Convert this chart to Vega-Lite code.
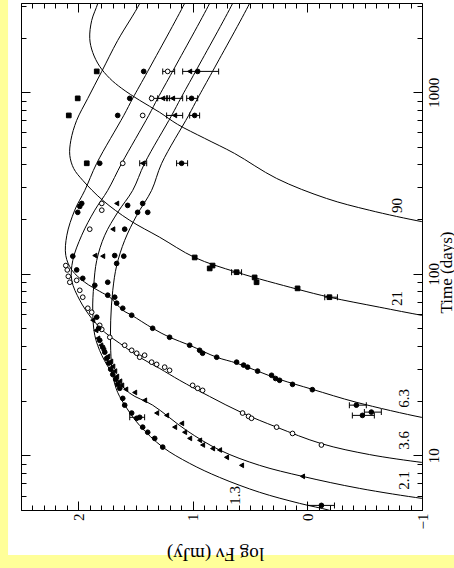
{
"$schema": "https://vega.github.io/schema/vega-lite/v6.json",
"width": 401, "height": 507,
"autosize": {"type": "none"},
"padding": {"left": 21, "top": 3, "right": 32, "bottom": 58},
"background": "#FFFF99",
"config": {"view": {"stroke": null}, "axis": {"zindex": 2, "grid": false, "domainColor": "black", "tickColor": "black", "labelColor": "black", "titleColor": "black", "labelFont": "Liberation Serif", "titleFont": "Liberation Serif", "titleFontWeight": "normal", "domainWidth": 1, "tickWidth": 1, "labelFlush": false, "labelOverlap": false}},
"datasets": {
"curves": [
{"c":"90","F":1.804,"t":3640},{"c":"90","F":1.830,"t":3083},{"c":"90","F":1.883,"t":2485},{"c":"90","F":1.900,"t":1978},{"c":"90","F":1.874,"t":1656},{"c":"90","F":1.813,"t":1387},{"c":"90","F":1.725,"t":1191},{"c":"90","F":1.621,"t":1050},{"c":"90","F":1.464,"t":902},{"c":"90","F":1.290,"t":775},{"c":"90","F":1.133,"t":665},{"c":"90","F":0.897,"t":557},{"c":"90","F":0.636,"t":460},{"c":"90","F":0.269,"t":335},{"c":"90","F":-0.166,"t":260},{"c":"90","F":-0.540,"t":224},{"c":"90","F":-0.994,"t":194},{"c":"90","F":-1.151,"t":187},
{"c":"21","F":1.420,"t":3640},{"c":"21","F":1.464,"t":3083},{"c":"21","F":1.656,"t":1928},{"c":"21","F":1.795,"t":1302},{"c":"21","F":1.917,"t":925},{"c":"21","F":2.014,"t":700},{"c":"21","F":2.065,"t":543},{"c":"21","F":2.074,"t":449},{"c":"21","F":2.040,"t":380},{"c":"21","F":1.961,"t":327},{"c":"21","F":1.787,"t":254},{"c":"21","F":1.551,"t":197},{"c":"21","F":1.290,"t":159},{"c":"21","F":0.984,"t":123},{"c":"21","F":0.618,"t":102},{"c":"21","F":0.086,"t":82.2},{"c":"21","F":-0.192,"t":74.3},{"c":"21","F":-0.627,"t":65.5},{"c":"21","F":-0.994,"t":59.1},{"c":"21","F":-1.151,"t":56.8},
{"c":"6.3","F":1.018,"t":3640},{"c":"6.3","F":1.072,"t":3083},{"c":"6.3","F":1.394,"t":1302},{"c":"6.3","F":1.525,"t":925},{"c":"6.3","F":1.603,"t":745},{"c":"6.3","F":1.839,"t":406},{"c":"6.3","F":1.943,"t":288},{"c":"6.3","F":2.031,"t":224},{"c":"6.3","F":2.100,"t":163},{"c":"6.3","F":2.109,"t":126},{"c":"6.3","F":2.057,"t":105},{"c":"6.3","F":1.943,"t":89.8},{"c":"6.3","F":1.813,"t":80.0},{"c":"6.3","F":1.725,"t":74.3},{"c":"6.3","F":1.612,"t":63.0},{"c":"6.3","F":1.534,"t":59.1},{"c":"6.3","F":1.351,"t":50.1},{"c":"6.3","F":1.203,"t":44.7},{"c":"6.3","F":1.028,"t":40.4},{"c":"6.3","F":0.792,"t":34.7},{"c":"6.3","F":0.618,"t":32.2},{"c":"6.3","F":0.435,"t":29.1},{"c":"6.3","F":0.243,"t":26.2},{"c":"6.3","F":-0.043,"t":23.1},{"c":"6.3","F":-0.427,"t":19.6},{"c":"6.3","F":-0.994,"t":16.2},{"c":"6.3","F":-1.151,"t":15.6},
{"c":"3.6","F":0.801,"t":3640},{"c":"3.6","F":0.854,"t":3083},{"c":"3.6","F":1.177,"t":1302},{"c":"3.6","F":1.307,"t":925},{"c":"3.6","F":1.385,"t":745},{"c":"3.6","F":1.621,"t":406},{"c":"3.6","F":1.743,"t":288},{"c":"3.6","F":1.856,"t":224},{"c":"3.6","F":1.970,"t":163},{"c":"3.6","F":2.048,"t":118.5},{"c":"3.6","F":2.057,"t":92.0},{"c":"3.6","F":1.987,"t":71.5},{"c":"3.6","F":1.883,"t":56.8},{"c":"3.6","F":1.769,"t":47.6},{"c":"3.6","F":1.638,"t":41.4},{"c":"3.6","F":1.464,"t":34.7},{"c":"3.6","F":1.290,"t":30.1},{"c":"3.6","F":1.115,"t":25.9},{"c":"3.6","F":0.854,"t":21.1},{"c":"3.6","F":0.566,"t":17.1},{"c":"3.6","F":0.269,"t":14.3},{"c":"3.6","F":-0.122,"t":11.6},{"c":"3.6","F":-0.541,"t":10.1},{"c":"3.6","F":-0.994,"t":9.15},{"c":"3.6","F":-1.151,"t":8.92},
{"c":"2.1","F":0.601,"t":3640},{"c":"2.1","F":0.653,"t":3083},{"c":"2.1","F":0.976,"t":1302},{"c":"2.1","F":1.106,"t":925},{"c":"2.1","F":1.185,"t":745},{"c":"2.1","F":1.421,"t":406},{"c":"2.1","F":1.525,"t":288},{"c":"2.1","F":1.656,"t":218},{"c":"2.1","F":1.769,"t":163},{"c":"2.1","F":1.839,"t":118.5},{"c":"2.1","F":1.865,"t":86.4},{"c":"2.1","F":1.874,"t":63.0},{"c":"2.1","F":1.856,"t":45.8},{"c":"2.1","F":1.795,"t":35.6},{"c":"2.1","F":1.690,"t":27.6},{"c":"2.1","F":1.551,"t":22.0},{"c":"2.1","F":1.351,"t":18.9},{"c":"2.1","F":1.054,"t":13.7},{"c":"2.1","F":0.767,"t":10.7},{"c":"2.1","F":0.418,"t":8.81},{"c":"2.1","F":0.043,"t":7.66},{"c":"2.1","F":-0.453,"t":6.58},{"c":"2.1","F":-0.994,"t":5.80},{"c":"2.1","F":-1.151,"t":5.65},
{"c":"1.3","F":0.453,"t":3640},{"c":"1.3","F":0.505,"t":3083},{"c":"1.3","F":0.828,"t":1302},{"c":"1.3","F":0.958,"t":925},{"c":"1.3","F":1.037,"t":745},{"c":"1.3","F":1.272,"t":406},{"c":"1.3","F":1.360,"t":288},{"c":"1.3","F":1.490,"t":209.7},{"c":"1.3","F":1.595,"t":152.8},{"c":"1.3","F":1.665,"t":111},{"c":"1.3","F":1.699,"t":81.1},{"c":"1.3","F":1.717,"t":55.5},{"c":"1.3","F":1.717,"t":37.9},{"c":"1.3","F":1.699,"t":27.6},{"c":"1.3","F":1.656,"t":22.2},{"c":"1.3","F":1.577,"t":18.2},{"c":"1.3","F":1.464,"t":14.6},{"c":"1.3","F":1.263,"t":11.1},{"c":"1.3","F":1.028,"t":9.03},{"c":"1.3","F":0.767,"t":7.56},{"c":"1.3","F":0.418,"t":6.26},{"c":"1.3","F":0.069,"t":5.44},{"c":"1.3","F":-0.192,"t":4.98},{"c":"1.3","F":-0.323,"t":4.67}
],
"pts": [
{"b":"21","F":1.839,"t":1302},{"b":"21","F":2.005,"t":925},{"b":"21","F":2.083,"t":745},{"b":"21","F":1.926,"t":406},{"b":"21","F":0.984,"t":123},{"b":"21","F":0.853,"t":107},{"b":"21","F":0.828,"t":111},{"b":"21","F":0.618,"t":102},{"b":"21","F":0.461,"t":95.5},{"b":"21","F":0.444,"t":89.8},{"b":"21","F":0.086,"t":83.1},{"b":"21","F":-0.192,"t":74.3},
{"b":"6","F":1.429,"t":1302},{"b":"6","F":1.551,"t":925},{"b":"6","F":1.656,"t":745},{"b":"6","F":1.813,"t":406},{"b":"6","F":1.970,"t":244},{"b":"6","F":1.987,"t":235},{"b":"6","F":2.005,"t":218},{"b":"6","F":2.048,"t":125},{"b":"6","F":2.014,"t":105},{"b":"6","F":1.961,"t":94.4},{"b":"6","F":1.856,"t":86.4},{"b":"6","F":1.743,"t":89.8},{"b":"6","F":1.743,"t":76.2},{"b":"6","F":1.682,"t":74.3},{"b":"6","F":1.665,"t":68.9},{"b":"6","F":1.612,"t":64.6},{"b":"6","F":1.534,"t":59.1},{"b":"6","F":1.351,"t":50.1},{"b":"6","F":1.203,"t":44.7},{"b":"6","F":1.028,"t":40.4},{"b":"6","F":0.941,"t":37.9},{"b":"6","F":0.915,"t":36.5},{"b":"6","F":0.792,"t":34.7},{"b":"6","F":0.618,"t":32.6},{"b":"6","F":0.557,"t":31.4},{"b":"6","F":0.522,"t":30.6},{"b":"6","F":0.435,"t":29.1},{"b":"6","F":0.313,"t":27.6},{"b":"6","F":0.278,"t":26.5},{"b":"6","F":0.243,"t":25.9},{"b":"6","F":0.130,"t":24.6},{"b":"6","F":-0.043,"t":23.0},{"b":"6","F":-0.427,"t":18.9},{"b":"6","F":-0.480,"t":16.6},{"b":"6","F":-0.558,"t":17.3},
{"b":"3.6","F":1.220,"t":1302},{"b":"3.6","F":1.360,"t":925},{"b":"3.6","F":1.438,"t":745},{"b":"3.6","F":1.612,"t":406},{"b":"3.6","F":1.795,"t":244},{"b":"3.6","F":1.795,"t":224},{"b":"3.6","F":1.900,"t":176},{"b":"3.6","F":2.096,"t":105},{"b":"3.6","F":2.109,"t":111},{"b":"3.6","F":2.087,"t":96.8},{"b":"3.6","F":2.074,"t":89.8},{"b":"3.6","F":2.014,"t":92.0},{"b":"3.6","F":1.987,"t":81.1},{"b":"3.6","F":1.961,"t":74.3},{"b":"3.6","F":1.917,"t":64.6},{"b":"3.6","F":1.883,"t":61.4},{"b":"3.6","F":1.813,"t":52.0},{"b":"3.6","F":1.795,"t":49.4},{"b":"3.6","F":1.725,"t":44.7},{"b":"3.6","F":1.595,"t":40.4},{"b":"3.6","F":1.534,"t":37.9},{"b":"3.6","F":1.490,"t":36.5},{"b":"3.6","F":1.464,"t":34.7},{"b":"3.6","F":1.421,"t":35.6},{"b":"3.6","F":1.360,"t":32.6},{"b":"3.6","F":1.316,"t":31.7},{"b":"3.6","F":1.246,"t":30.6},{"b":"3.6","F":1.203,"t":29.4},{"b":"3.6","F":1.002,"t":24.3},{"b":"3.6","F":0.958,"t":23.4},{"b":"3.6","F":0.915,"t":22.8},{"b":"3.6","F":0.566,"t":17.1},{"b":"3.6","F":0.514,"t":16.4},{"b":"3.6","F":0.488,"t":16.0},{"b":"3.6","F":0.269,"t":14.3},{"b":"3.6","F":0.130,"t":13.2},{"b":"3.6","F":-0.122,"t":11.4},
{"b":"2","F":1.028,"t":1302},{"b":"2","F":1.263,"t":925},{"b":"2","F":1.177,"t":925},{"b":"2","F":1.159,"t":745},{"b":"2","F":1.438,"t":406},{"b":"2","F":1.665,"t":244},{"b":"2","F":1.699,"t":176},{"b":"2","F":1.856,"t":126},{"b":"2","F":1.787,"t":125},{"b":"2","F":1.874,"t":55.5},{"b":"2","F":1.847,"t":48.8},{"b":"2","F":1.830,"t":44.1},{"b":"2","F":1.804,"t":40.4},{"b":"2","F":1.778,"t":37.9},{"b":"2","F":1.743,"t":35.1},{"b":"2","F":1.717,"t":32.9},{"b":"2","F":1.699,"t":30.9},{"b":"2","F":1.682,"t":29.1},{"b":"2","F":1.665,"t":27.2},{"b":"2","F":1.638,"t":25.6},{"b":"2","F":1.621,"t":24.3},{"b":"2","F":1.586,"t":23.1},{"b":"2","F":1.508,"t":22.2},{"b":"2","F":1.421,"t":20.1},{"b":"2","F":1.316,"t":17.1},{"b":"2","F":1.229,"t":16.6},{"b":"2","F":1.159,"t":14.3},{"b":"2","F":1.098,"t":15.0},{"b":"2","F":1.072,"t":13.4},{"b":"2","F":1.028,"t":12.4},{"b":"2","F":0.941,"t":12.1},{"b":"2","F":0.915,"t":11.4},{"b":"2","F":0.828,"t":10.9},{"b":"2","F":0.767,"t":10.7},{"b":"2","F":0.706,"t":9.75},{"b":"2","F":0.575,"t":8.81},{"b":"2","F":0.043,"t":7.66},
{"b":"1.3","F":0.958,"t":1302},{"b":"1.3","F":1.011,"t":925},{"b":"1.3","F":0.984,"t":745},{"b":"1.3","F":1.098,"t":406},{"b":"1.3","F":1.569,"t":238},{"b":"1.3","F":1.482,"t":218},{"b":"1.3","F":1.438,"t":244},{"b":"1.3","F":1.394,"t":218},{"b":"1.3","F":1.595,"t":176},{"b":"1.3","F":1.682,"t":126},{"b":"1.3","F":1.603,"t":125},{"b":"1.3","F":1.665,"t":114},{"b":"1.3","F":1.839,"t":57.7},{"b":"1.3","F":1.822,"t":50.1},{"b":"1.3","F":1.813,"t":43.0},{"b":"1.3","F":1.787,"t":39.4},{"b":"1.3","F":1.769,"t":37.0},{"b":"1.3","F":1.752,"t":34.2},{"b":"1.3","F":1.734,"t":32.2},{"b":"1.3","F":1.717,"t":29.8},{"b":"1.3","F":1.699,"t":27.9},{"b":"1.3","F":1.673,"t":26.2},{"b":"1.3","F":1.656,"t":24.6},{"b":"1.3","F":1.638,"t":23.4},{"b":"1.3","F":1.612,"t":20.6},{"b":"1.3","F":1.595,"t":18.9},{"b":"1.3","F":1.534,"t":17.1},{"b":"1.3","F":1.490,"t":16.0},{"b":"1.3","F":1.464,"t":16.2},{"b":"1.3","F":1.438,"t":14.3},{"b":"1.3","F":1.394,"t":13.4},{"b":"1.3","F":1.333,"t":12.4},{"b":"1.3","F":1.263,"t":11.1},{"b":"1.3","F":-0.122,"t":5.30}
],
"err": [
{"lo":1.159,"hi":1.263,"t":1302},{"lo":0.775,"hi":1.089,"t":1302},{"lo":1.229,"hi":1.368,"t":925},{"lo":1.203,"hi":1.307,"t":925},{"lo":1.089,"hi":1.220,"t":925},{"lo":0.958,"hi":1.054,"t":925},{"lo":1.089,"hi":1.229,"t":745},{"lo":0.941,"hi":1.028,"t":745},{"lo":1.403,"hi":1.464,"t":406},{"lo":1.046,"hi":1.142,"t":406},{"lo":-0.262,"hi":-0.151,"t":74.3},{"lo":-0.514,"hi":-0.366,"t":18.9},{"lo":-0.584,"hi":-0.392,"t":16.6},{"lo":-0.645,"hi":-0.497,"t":17.3},{"lo":1.421,"hi":1.551,"t":16.2},{"lo":-0.236,"hi":-0.001,"t":5.30},{"lo":0.575,"hi":0.662,"t":102}
],
"labels": [
{"lab":"1.3","F":0.636,"t":6.02},{"lab":"2.1","F":-0.847,"t":7.28},{"lab":"3.6","F":-0.847,"t":12.1},{"lab":"6.3","F":-0.847,"t":20.6},{"lab":"21","F":-0.785,"t":73.2},{"lab":"90","F":-0.785,"t":238}
]
},
"layer": [
{"data": {"values": [{}]},
 "mark": {"type": "rect", "fill": "white", "clip": false},
 "encoding": {
  "x": {"datum": 2.613, "type": "quantitative", "scale": {"domain": [-1, 2.5], "reverse": true, "nice": false, "zero": false},
   "axis": {"orient": "bottom", "zindex": 2, "values": [-1, 0, 1, 2], "format": "d", "ticks": false, "domain": false,
    "labelAngle": 270, "labelAlign": "right", "labelBaseline": "middle", "labelFontSize": 15, "labelPadding": 3,
    "title": "log Fν (mJy)", "titleAngle": 180, "titleFontSize": 19, "titleX": 194, "titleY": 43, "titleAlign": "center", "titleBaseline": "middle"}},
  "x2": {"datum": -1.4},
  "y": {"datum": 2.83, "type": "quantitative", "scale": {"type": "log", "domain": [5, 3100], "nice": false},
   "axis": {"orient": "right", "zindex": 2, "values": [10, 100, 1000], "format": "d", "ticks": false, "domain": false,
    "labelAngle": 270, "labelAlign": "center", "labelBaseline": "top", "labelFontSize": 15, "labelPadding": 4,
    "title": "Time (days)", "titleAngle": 270, "titleFontSize": 17, "titleX": 24, "titleY": 269, "titleAlign": "center", "titleBaseline": "middle"}},
  "y2": {"datum": 10000}
 }},
{"data": {"name": "curves"},
 "mark": {"type": "line", "stroke": "black", "strokeWidth": 1, "interpolate": "catmull-rom", "clip": true},
 "encoding": {
  "x": {"field": "F", "type": "quantitative", "scale": {"domain": [-1, 2.5], "reverse": true, "nice": false, "zero": false},
   "axis": {"orient": "bottom", "zindex": 2, "labels": false, "title": null, "values": [-1,-0.9,-0.8,-0.7,-0.6,-0.5,-0.4,-0.3,-0.2,-0.1,0,0.1,0.2,0.3,0.4,0.5,0.6,0.7,0.8,0.9,1,1.1,1.2,1.3,1.4,1.5,1.6,1.7,1.8,1.9,2,2.1,2.2,2.3,2.4,2.5],
    "tickSize": {"condition": {"test": "datum.value == -1 || datum.value == 0 || datum.value == 1 || datum.value == 2", "value": -9}, "value": -5}}},
  "y": {"field": "t", "type": "quantitative", "scale": {"type": "log", "domain": [5, 3100], "nice": false},
   "axis": {"orient": "right", "zindex": 2, "labels": false, "title": null, "values": [5,6,7,8,9,10,20,30,40,50,60,70,80,90,100,200,300,400,500,600,700,800,900,1000,2000,3000],
    "tickSize": {"condition": {"test": "datum.value == 10 || datum.value == 100 || datum.value == 1000", "value": -9}, "value": -5}}},
  "detail": {"field": "c"},
  "order": {"field": "t", "type": "quantitative"}
 }},
{"data": {"name": "err"},
 "mark": {"type": "rule", "color": "black", "strokeWidth": 1},
 "encoding": {
  "x": {"field": "lo", "type": "quantitative", "scale": {"domain": [-1, 2.5], "reverse": true, "nice": false, "zero": false},
   "axis": {"orient": "top", "zindex": 2, "values": [-1,-0.9,-0.8,-0.7,-0.6,-0.5,-0.4,-0.3,-0.2,-0.1,0,0.1,0.2,0.3,0.4,0.5,0.6,0.7,0.8,0.9,1,1.1,1.2,1.3,1.4,1.5,1.6,1.7,1.8,1.9,2,2.1,2.2,2.3,2.4,2.5], "labels": false, "title": null,
    "tickSize": {"condition": {"test": "datum.value == -1 || datum.value == 0 || datum.value == 1 || datum.value == 2", "value": -9}, "value": -5}}},
  "x2": {"field": "hi"},
  "y": {"field": "t", "type": "quantitative", "scale": {"type": "log", "domain": [5, 3100], "nice": false},
   "axis": {"orient": "left", "zindex": 2, "values": [5,6,7,8,9,10,20,30,40,50,60,70,80,90,100,200,300,400,500,600,700,800,900,1000,2000,3000], "labels": false, "title": null,
    "tickSize": {"condition": {"test": "datum.value == 10 || datum.value == 100 || datum.value == 1000", "value": -9}, "value": -5}}}
 }},
{"data": {"name": "err"},
 "mark": {"type": "tick", "orient": "vertical", "size": 6, "thickness": 1, "color": "black", "opacity": 1},
 "encoding": {
  "x": {"field": "lo", "type": "quantitative", "scale": {"domain": [-1, 2.5], "reverse": true, "nice": false, "zero": false}, "axis": null},
  "y": {"field": "t", "type": "quantitative", "scale": {"type": "log", "domain": [5, 3100], "nice": false}, "axis": null}
 }},
{"data": {"name": "err"},
 "mark": {"type": "tick", "orient": "vertical", "size": 6, "thickness": 1, "color": "black", "opacity": 1},
 "encoding": {
  "x": {"field": "hi", "type": "quantitative", "scale": {"domain": [-1, 2.5], "reverse": true, "nice": false, "zero": false}, "axis": null},
  "y": {"field": "t", "type": "quantitative", "scale": {"type": "log", "domain": [5, 3100], "nice": false}, "axis": null}
 }},
{"data": {"name": "pts"},
 "mark": {"type": "point", "filled": true, "stroke": "black", "strokeWidth": 1, "size": 22, "opacity": 1},
 "encoding": {
  "x": {"field": "F", "type": "quantitative", "scale": {"domain": [-1, 2.5], "reverse": true, "nice": false, "zero": false}, "axis": null},
  "y": {"field": "t", "type": "quantitative", "scale": {"type": "log", "domain": [5, 3100], "nice": false}, "axis": null},
  "shape": {"field": "b", "type": "nominal", "scale": {"domain": ["1.3","2","3.6","6","21"], "range": ["circle","triangle-left","circle","circle","square"]}, "legend": null},
  "fill": {"field": "b", "type": "nominal", "scale": {"domain": ["1.3","2","3.6","6","21"], "range": ["black","black","white","black","black"]}, "legend": null}
 }},
{"data": {"name": "labels"},
 "mark": {"type": "text", "angle": 270, "font": "Liberation Serif", "fontSize": 15, "color": "black", "align": "center", "baseline": "middle"},
 "encoding": {
  "x": {"field": "F", "type": "quantitative", "scale": {"domain": [-1, 2.5], "reverse": true, "nice": false, "zero": false}, "axis": null},
  "y": {"field": "t", "type": "quantitative", "scale": {"type": "log", "domain": [5, 3100], "nice": false}, "axis": null},
  "text": {"field": "lab"}
 }}
],
"resolve": {"axis": {"x": "independent", "y": "independent"}}
}
